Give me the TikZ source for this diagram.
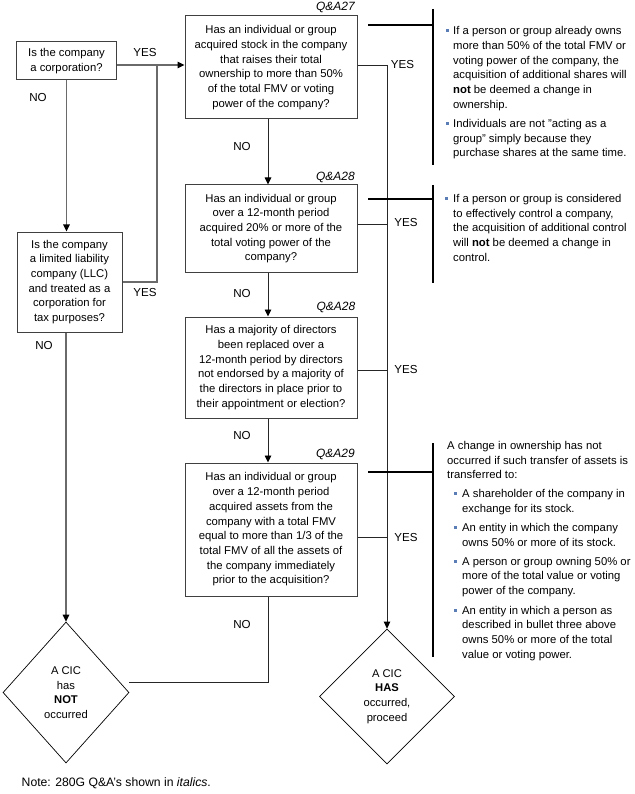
\documentclass[tikz,border=0pt]{standalone}
\usepackage{fontspec}
\setmainfont{Liberation Sans}
\usetikzlibrary{arrows.meta,shapes.geometric}
\definecolor{connc}{HTML}{6A6A6A}
\definecolor{boxc}{HTML}{404040}
\definecolor{bulc}{HTML}{5B7DB5}
\begin{document}
\begin{tikzpicture}[x=1pt,y=-1pt,
  qbox/.style={draw=boxc, line width=1pt, rectangle, align=center, inner sep=0pt,
    font=\fontsize{11.3}{14.7}\selectfont},
  dia/.style={draw=black, line width=0.7pt, diamond, align=center, inner sep=0pt,
    font=\fontsize{11.2}{14.6}\selectfont},
  lab/.style={font=\fontsize{11.6}{14}\selectfont, inner sep=0pt},
  qa/.style={font=\fontsize{12}{14}\selectfont\itshape, inner sep=0pt, anchor=east},
  ann/.style={font=\fontsize{11.3}{14.7}\selectfont, align=left, inner sep=0pt, anchor=north west},
  bulsq/.style={fill=bulc, minimum size=3pt, inner sep=0pt},
  leftconn/.style={draw=connc, line width=1.4pt},
  mainconn/.style={draw=black!85, line width=0.9pt},
  arr/.style={-{Triangle[length=7pt,width=6.5pt,black]}},
  bar/.style={line width=2.8pt, black},
]
\useasboundingbox (0,0) rectangle (634,794);

% decision boxes
\node[qbox, minimum width=100, minimum height=38] (corp) at (66.5,61) {Is the company\\a corporation?};
\node[qbox, minimum width=105, minimum height=100] (llc) at (69.5,282) {Is the company\\a limited liability\\company (LLC)\\and treated as a\\corporation for\\tax purposes?};
\node[qbox, minimum width=172, minimum height=103] (q27) at (271,67.5) {Has an individual or group\\acquired stock in the company\\that raises their total\\ownership to more than 50\%\\of the total FMV or voting\\power of the company?};
\node[qbox, minimum width=172, minimum height=87] (q28a) at (271,228.5) {Has an individual or group\\over a 12-month period\\acquired 20\% or more of the\\total voting power of the\\company?};
\node[qbox, minimum width=172, minimum height=101] (q28b) at (271,367.5) {Has a majority of directors\\been replaced over a\\12-month period by directors\\not endorsed by a majority of\\the directors in place prior to\\their appointment or election?};
\node[qbox, minimum width=172, minimum height=133] (q29) at (271,529.5) {Has an individual or group\\over a 12-month period\\acquired assets from the\\company with a total FMV\\equal to more than 1/3 of the\\total FMV of all the assets of\\the company immediately\\prior to the acquisition?};

% outcomes
\node[dia, minimum width=126, minimum height=141] (ldia) at (66,692.5) {A CIC\\has\\\textbf{NOT}\\occurred};
\node[dia, minimum width=135, minimum height=135] (rdia) at (387,696.5) {A CIC\\\textbf{HAS}\\occurred,\\proceed};

% Q&A labels
\node[qa] (qa27) at (355,7) {Q\&A27};
\node[qa] (qa28a) at (355,177) {Q\&A28};
\node[qa] (qa28b) at (355.5,307.5) {Q\&A28};
\node[qa] (qa29) at (355,454) {Q\&A29};

% helper coordinates
\coordinate (jy) at (157,65);
\coordinate (col) at (268,0);
\coordinate (ry1) at (387,65);
\coordinate (ry2) at (387,224);
\coordinate (ry3) at (387,370);
\coordinate (ry4) at (387,537);
\coordinate (nobend) at (268,682);

% left connectors
\draw[leftconn,arr] (corp.east |- jy) -- (q27.west |- jy);
\draw[leftconn] (jy) |- (llc.east);
\draw[leftconn,arr] (corp.south) -- (corp.south |- llc.north);
\draw[leftconn,arr] (ldia.north |- llc.south) -- (ldia.north);

% main column
\draw[mainconn,arr] (q27.south -| col) -- (q28a.north -| col);
\draw[mainconn,arr] (q28a.south -| col) -- (q28b.north -| col);
\draw[mainconn,arr] (q28b.south -| col) -- (q29.north -| col);
\draw[mainconn] (q29.south -| col) -- (nobend) -- (nobend -| ldia.east);

% yes branch
\draw[mainconn] (ry1 -| q27.east) -- (ry1);
\draw[mainconn] (ry2 -| q28a.east) -- (ry2);
\draw[mainconn] (ry3 -| q28b.east) -- (ry3);
\draw[mainconn] (ry4 -| q29.east) -- (ry4);
\draw[mainconn,arr] (ry1) -- (rdia.north);

% YES / NO labels
\node[lab] (yes0) at (145,53) {YES};
\node[lab] (no0) at (38,98) {NO};
\node[lab] (yes1) at (145,293) {YES};
\node[lab] (no1) at (44,345.5) {NO};
\node[lab] (no2) at (242,147) {NO};
\node[lab] (no3) at (242,294) {NO};
\node[lab] (no4) at (242,436) {NO};
\node[lab] (no5) at (242,624) {NO};
\node[lab] (yes2) at (402.5,65) {YES};
\node[lab] (yes3) at (406,223) {YES};
\node[lab] (yes4) at (406,370) {YES};
\node[lab] (yes5) at (406,538) {YES};

% brackets
\draw[bar] (368,25) -- (433,25);
\draw[bar] (433,9) -- (433,165);
\draw[bar] (368,199) -- (433,199);
\draw[bar] (433,185) -- (433,283);
\draw[bar] (368,472) -- (433,472);
\draw[bar] (433,443) -- (433,657);

% annotations
\node[ann] (a1b1) at (453,26.5) {If a person or group already owns\\more than 50\% of the total FMV or\\voting power of the company, the\\acquisition of additional shares will\\\textbf{not} be deemed a change in\\ownership.};
\node[bulsq] (s1) at (447,31) {};
\node[ann] (a1b2) at (453,119) {Individuals are not \char34 acting as a\\group\char34\ simply because they\\purchase shares at the same time.};
\node[bulsq] (s2) at (447,123.5) {};
\node[ann] (a2) at (453,194) {If a person or group is considered\\to effectively control a company,\\the acquisition of additional control\\will \textbf{not} be deemed a change in\\control.};
\node[bulsq] (s3) at (446.5,198.5) {};
\node[ann] (a3) at (447,441) {A change in ownership has not\\occurred if such transfer of assets is\\transferred to:};
\node[ann] (a3b1) at (462,489.3) {A shareholder of the company in\\exchange for its stock.};
\node[bulsq] (s4) at (455.5,493.6) {};
\node[ann] (a3b2) at (462,523.3) {An entity in which the company\\owns 50\% or more of its stock.};
\node[bulsq] (s5) at (455.5,527.6) {};
\node[ann] (a3b3) at (462,556.7) {A person or group owning 50\% or\\more of the total value or voting\\power of the company.};
\node[bulsq] (s6) at (455.5,561) {};
\node[ann] (a3b4) at (462,605.7) {An entity in which a person as\\described in bullet three above\\owns 50\% or more of the total\\value or voting power.};
\node[bulsq] (s7) at (455.5,610) {};

% note
\node[ann, anchor=west, font=\fontsize{12.2}{14.7}\selectfont] (note) at (21.5,783) {Note: 280G Q\&A’s shown in \textit{italics}.};
\end{tikzpicture}
\end{document}
